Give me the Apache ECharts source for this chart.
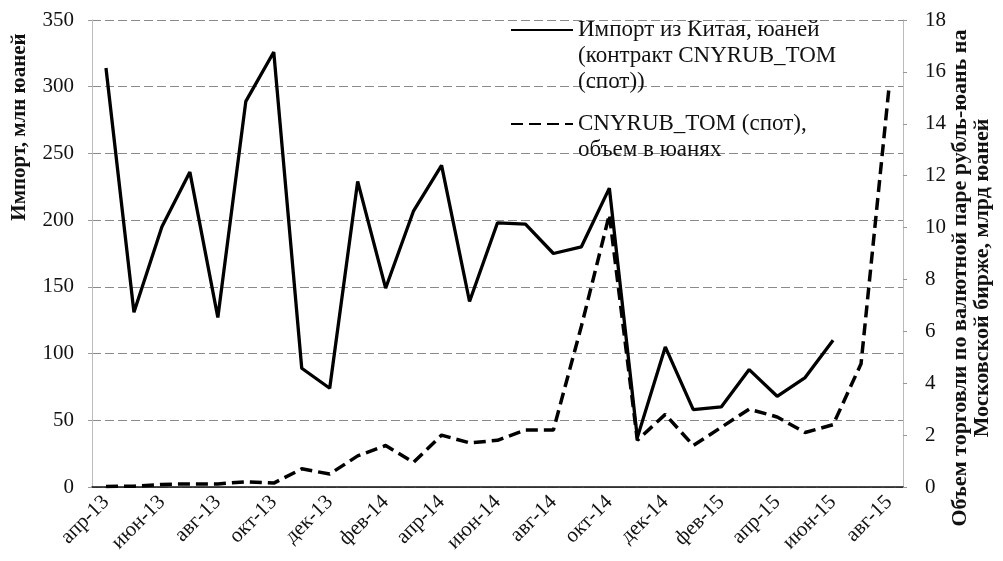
<!DOCTYPE html>
<html>
<head>
<meta charset="utf-8">
<script src="https://cdn.jsdelivr.net/npm/echarts@6/dist/echarts.min.js"></script>
<style>
  html, body { margin: 0; padding: 0; background: #fff; }
  #chart { width: 1003px; height: 561px; }
</style>
</head>
<body>
<div id="chart"></div>
<script>
const months = [
  'апр-13', 'май-13', 'июн-13', 'июл-13', 'авг-13', 'сен-13', 'окт-13', 'ноя-13', 'дек-13',
  'янв-14', 'фев-14', 'мар-14', 'апр-14', 'май-14', 'июн-14', 'июл-14', 'авг-14', 'сен-14',
  'окт-14', 'ноя-14', 'дек-14', 'янв-15', 'фев-15', 'мар-15', 'апр-15', 'май-15', 'июн-15',
  'июл-15', 'авг-15',
];

// импорт из Китая, млн юаней (левая ось)
const importValues = [
  314, 131, 195, 236, 127, 289, 326, 89, 74,
  229, 149, 207, 241, 139, 198, 197, 175, 180,
  224, 37, 105, 58, 60, 88, 68, 82, 110,
  null, null,
];

// объем торгов CNYRUB_TOM, млрд юаней (правая ось)
const volumeValues = [
  0.02, 0.03, 0.1, 0.12, 0.12, 0.2, 0.15, 0.7, 0.5,
  1.2, 1.6, 0.95, 2.0, 1.7, 1.8, 2.2, 2.2, 6.2,
  10.5, 1.8, 2.8, 1.6, 2.3, 3.0, 2.7, 2.1, 2.4,
  4.75, 15.4,
];

const IMPORT_NAME = 'Импорт из Китая, юаней\n(контракт CNYRUB_TOM\n(спот))';
const VOLUME_NAME = 'CNYRUB_TOM (спот),\nобъем в юанях';

const FONT = '"Liberation Serif", "Times New Roman", serif';
const TEXT_COLOR = '#111';

const chart = echarts.init(document.getElementById('chart'));

const legendBase = {
  left: 510,
  padding: 0,
  orient: 'vertical',
  itemWidth: 62,
  itemHeight: 14,
  selectedMode: false,
  itemStyle: { opacity: 0 },
  textStyle: { fontFamily: FONT, fontSize: 23, lineHeight: 26, color: TEXT_COLOR },
};

const option = {
  animation: false,
  backgroundColor: '#fff',
  grid: { left: 92, right: 100, top: 20, bottom: 74 },
  legend: [
    // icon is centred on the text block, so empty leading lines keep it level with the first line
    { ...legendBase, top: -35, data: [IMPORT_NAME], formatter: (name) => `\n\n${name}` },
    { ...legendBase, top: 85, data: [VOLUME_NAME], formatter: (name) => `\n${name}` },
  ],
  xAxis: [
    {
      type: 'category',
      data: months,
      boundaryGap: true,
      axisLine: { lineStyle: { color: '#999', type: 'dashed' } },
      axisTick: { interval: 1, length: 5, lineStyle: { color: '#888' } },
      axisLabel: {
        interval: 1,
        rotate: 45,
        margin: 12,
        fontFamily: FONT,
        fontSize: 21,
        color: TEXT_COLOR,
      },
    },
    {
      // верхняя рамка области построения
      type: 'category',
      data: months,
      position: 'top',
      axisLine: { lineStyle: { color: '#111', width: 1.5 } },
      axisTick: { show: false },
      axisLabel: { show: false },
    },
  ],
  yAxis: [
    {
      type: 'value',
      min: 0,
      max: 350,
      interval: 50,
      axisLine: { show: true, lineStyle: { color: '#bbb' } },
      axisTick: { show: true, length: 4, lineStyle: { color: '#999' } },
      axisLabel: { margin: 18, fontFamily: FONT, fontSize: 21, color: TEXT_COLOR },
      splitLine: { lineStyle: { color: '#8a8a8a', type: [9, 4], width: 1 } },
    },
    {
      type: 'value',
      min: 0,
      max: 18,
      interval: 2,
      position: 'right',
      axisLine: { show: true, lineStyle: { color: '#bbb' } },
      axisTick: { show: true, length: 4, lineStyle: { color: '#999' } },
      axisLabel: { margin: 22, fontFamily: FONT, fontSize: 21, color: TEXT_COLOR },
      splitLine: { show: false },
    },
  ],
  graphic: [
    {
      type: 'text',
      x: 20,
      y: 127,
      rotation: Math.PI / 2,
      style: {
        text: 'Импорт, млн юаней',
        font: `bold 21px ${FONT}`,
        fill: TEXT_COLOR,
        textAlign: 'center',
        textVerticalAlign: 'middle',
      },
    },
    {
      type: 'text',
      x: 971,
      y: 278,
      rotation: Math.PI / 2,
      style: {
        text: 'Объем торговли по валютной паре рубль-юань на\nМосковской бирже, млрд юаней',
        font: `bold 22px ${FONT}`,
        lineHeight: 22,
        fill: TEXT_COLOR,
        textAlign: 'center',
        textVerticalAlign: 'middle',
      },
    },
  ],
  series: [
    {
      name: IMPORT_NAME,
      type: 'line',
      data: importValues,
      yAxisIndex: 0,
      symbol: 'none',
      lineStyle: { color: '#000', width: 3.3 },
      itemStyle: { color: '#000' },
    },
    {
      name: VOLUME_NAME,
      type: 'line',
      data: volumeValues,
      yAxisIndex: 1,
      symbol: 'none',
      lineStyle: { color: '#000', width: 3.5, type: [12, 6] },
      itemStyle: { color: '#000' },
    },
  ],
};

chart.setOption(option);
</script>
</body>
</html>
